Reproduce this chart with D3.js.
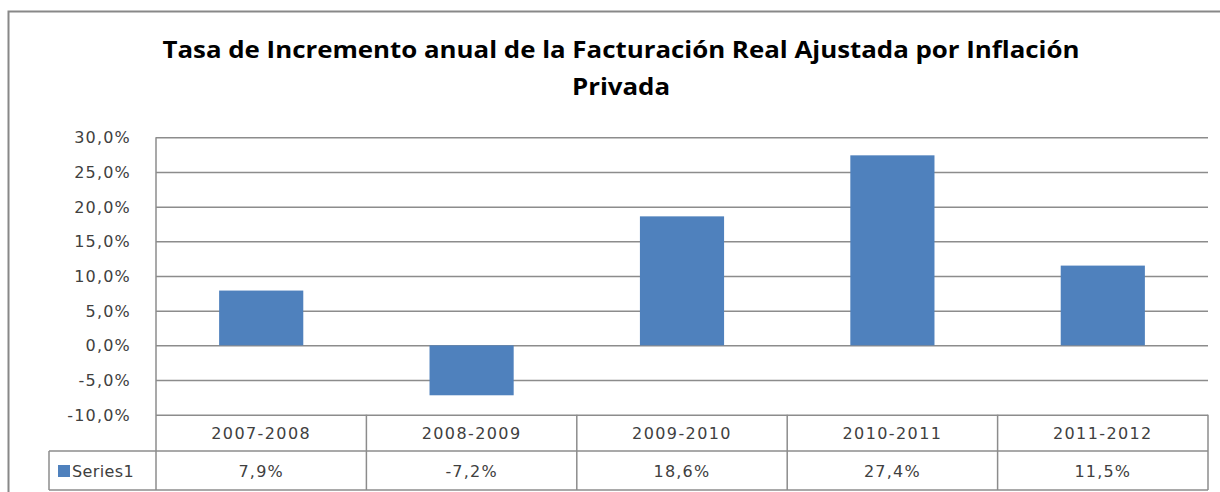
<!DOCTYPE html>
<html>
<head>
<meta charset="utf-8">
<script src="https://cdn.jsdelivr.net/npm/d3@7"></script>
<style>
  body { margin: 0; background: #fff; }
  svg text { font-family: "DejaVu Sans", "Noto Sans", sans-serif; }
  svg .title { font-family: "Open Sans", "Noto Sans", sans-serif; }
</style>
</head>
<body>
<svg class="chart"></svg>
<script>
// chart values
var periods = ["2007-2008", "2008-2009", "2009-2010", "2010-2011", "2011-2012"];
var series1 = [7.9, -7.2, 18.6, 27.4, 11.5];
var seriesName = "Series1";
var yTicks = [-10, -5, 0, 5, 10, 15, 20, 25, 30];
var titleLines = ["Tasa de Incremento anual de la Facturación  Real Ajustada  por Inflación", "Privada"];

var width = 1220,
    height = 492;

var svg = d3.select(".chart")
            .attr("width", width)
            .attr("height", height);

var plotLeft = 156, plotRight = 1208, plotTop = 137.3, plotBottom = 414.7;
var rowCat = 451, rowVal = 490, legendLeft = 49;
var lineCol = "#8c8c8c", textCol = "#404040";
var labelSize = "16px", labelSpacing = "1.2px";

// 7.9 -> "7,9" with a plain hyphen for negatives
var fmt = function(v){ return d3.format(".1f")(v).replace("\u2212", "-").replace(".", ","); };

// outer chart frame
svg.append("rect")
   .attr("x", 8.5).attr("y", 11.5)
   .attr("width", 1240).attr("height", 500)
   .attr("fill", "none")
   .attr("stroke", "#888").attr("stroke-width", 2);

// title, squeezed horizontally like the original narrow font
var title = svg.selectAll(".title").data(titleLines).enter()
   .append("text")
   .attr("class", "title")
   .attr("x", 621)
   .attr("y", function(d, i){ return 58 + i * 37; })
   .attr("text-anchor", "middle")
   .attr("font-size", "24px")
   .attr("font-weight", "bold")
   .attr("fill", "#000")
   .text(function(d){ return d; });

var squeeze = 917 / title.node().getComputedTextLength();
title.each(function(){
  var w = this.getComputedTextLength();
  d3.select(this)
    .attr("textLength", w * squeeze)
    .attr("lengthAdjust", "spacingAndGlyphs");
});

var x = d3.scaleBand()
  .domain(periods)
  .range([plotLeft, plotRight])
  .paddingInner(0.6)
  .paddingOuter(0.3);

var y = d3.scaleLinear()
  .domain([-10, 30])
  .range([plotBottom, plotTop]);

// gridlines + tick labels
var yAxis = d3.axisLeft(y)
  .tickValues(yTicks)
  .tickSize(-(plotRight - plotLeft))
  .tickFormat(function(d){ return fmt(d) + "%"; });

var gy = svg.append("g")
  .attr("transform", "translate(" + plotLeft + ",0)")
  .call(yAxis);
gy.select(".domain").remove();
gy.selectAll(".tick line")
  .attr("stroke", lineCol)
  .attr("stroke-width", 1.5);
gy.selectAll(".tick text")
  .attr("x", -25)
  .attr("dy", "0.35em")
  .attr("font-size", labelSize)
  .attr("letter-spacing", labelSpacing)
  .attr("font-family", "DejaVu Sans")
  .attr("fill", textCol);

// bars
svg.selectAll(".bar").data(series1).enter()
   .append("rect")
   .attr("class", "bar")
   .attr("x", function(d, i){ return x(periods[i]); })
   .attr("width", x.bandwidth())
   .attr("y", function(d){ return y(Math.max(0, d)); })
   .attr("height", function(d){ return Math.abs(y(d) - y(0)); })
   .attr("fill", "#4f81bd");

// data table lines
var table = svg.append("g")
  .attr("stroke", lineCol)
  .attr("stroke-width", 1.5);

table.append("line")
  .attr("x1", plotLeft).attr("x2", plotLeft)
  .attr("y1", plotTop).attr("y2", rowVal);
table.append("line")
  .attr("x1", plotRight).attr("x2", plotRight)
  .attr("y1", plotBottom).attr("y2", rowVal);
table.append("line")
  .attr("x1", legendLeft).attr("x2", legendLeft)
  .attr("y1", rowCat).attr("y2", rowVal);
[rowCat, rowVal].forEach(function(yy){
  table.append("line")
    .attr("x1", legendLeft).attr("x2", plotRight)
    .attr("y1", yy).attr("y2", yy);
});

table.selectAll(".divider").data(periods.slice(1)).enter()
  .append("line")
  .attr("class", "divider")
  .attr("x1", function(d){ return x(d) - x.step() * x.paddingInner() / 2; })
  .attr("x2", function(d){ return x(d) - x.step() * x.paddingInner() / 2; })
  .attr("y1", plotBottom).attr("y2", rowVal);

// category labels
svg.selectAll(".cat").data(periods).enter()
   .append("text")
   .attr("class", "cat")
   .attr("x", function(d){ return x(d) + x.bandwidth() / 2; })
   .attr("y", (plotBottom + rowCat) / 2 + 1)
   .attr("dy", "0.35em")
   .attr("text-anchor", "middle")
   .attr("font-size", labelSize)
   .attr("letter-spacing", "1.4px")
   .attr("fill", textCol)
   .text(function(d){ return d; });

// value labels
svg.selectAll(".val").data(series1).enter()
   .append("text")
   .attr("class", "val")
   .attr("x", function(d, i){ return x(periods[i]) + x.bandwidth() / 2; })
   .attr("y", (rowCat + rowVal) / 2 + 1)
   .attr("dy", "0.35em")
   .attr("text-anchor", "middle")
   .attr("font-size", labelSize)
   .attr("letter-spacing", labelSpacing)
   .attr("fill", textCol)
   .text(function(d){ return fmt(d) + "%"; });

// legend key
svg.append("rect")
   .attr("x", 58).attr("y", 465)
   .attr("width", 12).attr("height", 12)
   .attr("fill", "#4f81bd");
svg.append("text")
   .attr("x", 72)
   .attr("y", (rowCat + rowVal) / 2 + 1)
   .attr("dy", "0.35em")
   .attr("font-size", labelSize)
   .attr("letter-spacing", "0.4px")
   .attr("fill", textCol)
   .text(seriesName);
</script>
</body>
</html>
